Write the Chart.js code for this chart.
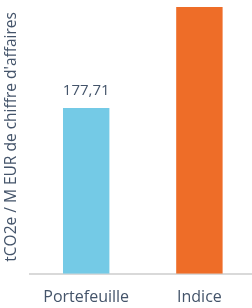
<!DOCTYPE html>
<html>
<head>
<meta charset="utf-8">
<script src="https://cdn.jsdelivr.net/npm/chart.js@4"></script>
<style>
  html, body { margin: 0; padding: 0; background: #fff; overflow: hidden; }
  #wrap { width: 256px; height: 308px; }
</style>
</head>
<body>
<div id="wrap"><canvas id="graficoIntensite"></canvas></div>
<script>
const categories = ['Portefeuille', 'Indice'];
const intensite = [177.71, 286];
const barColors = ['#74CAE6', '#EE6D28'];
const axisTitle = "tCO2e / M EUR de chiffre d'affaires";
const yMax = 293.5;

// étiquettes de valeur au-dessus des barres
const valueLabels = {
    id: 'valueLabels',
    afterDatasetsDraw(chart) {
        const ctx = chart.ctx;
        const meta = chart.getDatasetMeta(0);
        ctx.save();
        ctx.font = '15px "Open Sans"';
        ctx.fillStyle = '#44546A';
        ctx.textAlign = 'center';
        ctx.textBaseline = 'middle';
        meta.data.forEach(function (bar, i) {
            const txt = intensite[i].toFixed(2).replace('.', ',');
            ctx.fillText(txt, bar.x, bar.y - 17);
        });
        ctx.restore();
    }
};

const ctx = document.getElementById('graficoIntensite').getContext('2d');
const grafico = new Chart(ctx, {
    type: 'bar',
    data: {
        labels: categories,
        datasets: [{
            data: intensite,
            backgroundColor: barColors,
            borderWidth: 0,
            barPercentage: 0.41,
            categoryPercentage: 1
        }]
    },
    options: {
        responsive: true,
        maintainAspectRatio: false,
        animation: false,
        layout: { padding: { top: 0, bottom: -13, left: 0, right: 0 } },
        plugins: {
            legend: { display: false },
            tooltip: { enabled: false }
        },
        scales: {
            x: {
                grid: { display: false, drawTicks: false },
                border: { display: true, color: '#D9D9D9', width: 2 },
                ticks: {
                    color: '#44546A',
                    font: { family: 'Open Sans', size: 16 },
                    padding: 14
                }
            },
            y: {
                min: 0,
                max: yMax,
                grid: { display: false, drawTicks: false },
                border: { display: false },
                ticks: { display: false },
                title: {
                    display: true,
                    text: axisTitle,
                    color: '#44546A',
                    font: { family: 'Open Sans', size: 15.5 },
                    padding: { top: 2, bottom: 9 }
                }
            }
        }
    },
    plugins: [valueLabels]
});
</script>
</body>
</html>
